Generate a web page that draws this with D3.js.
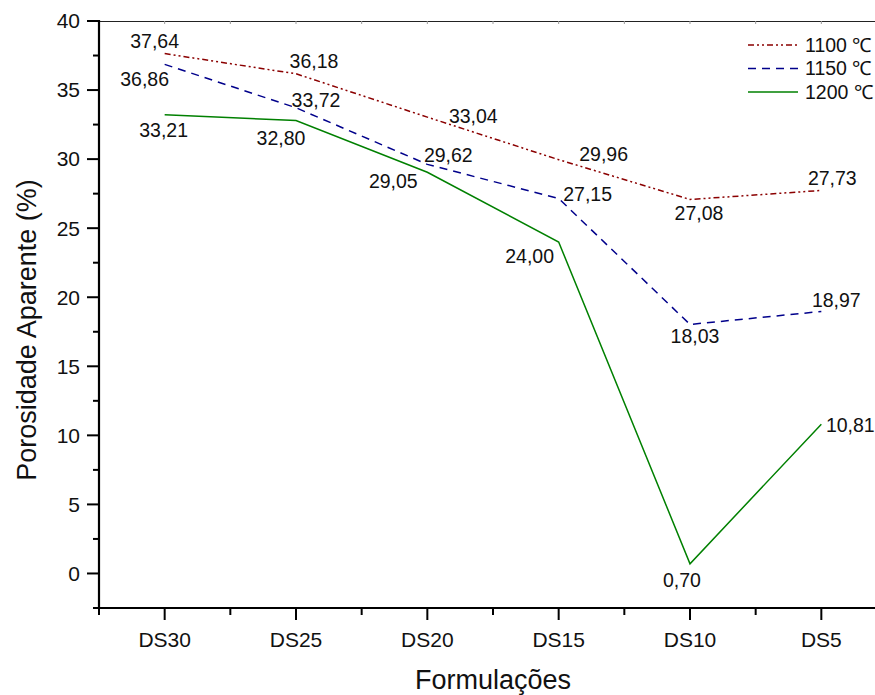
<!DOCTYPE html>
<html>
<head>
<meta charset="utf-8">
<script src="https://cdn.jsdelivr.net/npm/d3@7"></script>
<style>
  html, body { margin: 0; padding: 0; background: #fff; }
  svg { display: block; font-family: "Liberation Sans", Arial, sans-serif; }
</style>
</head>
<body>
<svg id="chart" width="875" height="695"></svg>
<script>
// ---- data ----
const categories = ["DS30", "DS25", "DS20", "DS15", "DS10", "DS5"];
const seriesNames = ["1100 ℃", "1150 ℃", "1200 ℃"];
const values1100 = [37.64, 36.18, 33.04, 29.96, 27.08, 27.73];
const values1150 = [36.86, 33.72, 29.62, 27.15, 18.03, 18.97];
const values1200 = [33.21, 32.80, 29.05, 24.00, 0.70, 10.81];
const yTicks = [0, 5, 10, 15, 20, 25, 30, 35, 40];
const yDomain = [-2.5, 40];

// ---- layout (label offsets from point, in px) ----
const labelOffsets = [
  [[-10, -12], [18, -13], [46, -1], [45, -5], [9, 14], [11, -12]],
  [[-20, 15], [20, -8], [21, -9], [29, -4], [5, 12], [15, -11]],
  [[-1, 15], [-15, 18], [-34, 9], [-29, 14], [-8, 16], [29, 1]]
];
const styles = [
  { color: "#8b0000", dash: "6,3,2,3,2,3" },
  { color: "#00008b", dash: "8,6" },
  { color: "#008000", dash: null }
];

(function () {
const series = [values1100, values1150, values1200].map((v, i) => ({
  name: seriesNames[i], values: v, style: styles[i], offsets: labelOffsets[i]
}));

const svg = d3.select("#chart");
const pLeft = 99, pTop = 21, pBottom = 608, pRight = 887;

const x = d3.scalePoint().domain(categories).range([pLeft, pRight]).padding(0.5);
const y = d3.scaleLinear().domain(yDomain).range([pBottom, pTop]);
const step = x.step();

// ---- top frame line with tiny inward ticks ----
svg.append("line").attr("x1", pLeft).attr("x2", 875).attr("y1", pTop + 0.5).attr("y2", pTop + 0.5)
  .attr("stroke", "#222").attr("stroke-width", 1);
const topTickXs = [];
categories.forEach(c => { topTickXs.push(x(c)); topTickXs.push(x(c) + step / 2); });
svg.selectAll(".ttick").data(topTickXs).enter().append("line")
  .attr("x1", d => d).attr("x2", d => d).attr("y1", pTop).attr("y2", pTop + 3)
  .attr("stroke", "#999").attr("stroke-width", 1);

// ---- left axis ----
const gy = svg.append("g");
const minorY = d3.range(-2.5, 40, 5);
gy.selectAll(".ymin").data(minorY).enter().append("line")
  .attr("x1", pLeft - 6).attr("x2", pLeft).attr("y1", d => y(d)).attr("y2", d => y(d))
  .attr("stroke", "#000").attr("stroke-width", 2);
gy.selectAll(".ymaj").data(yTicks).enter().append("line")
  .attr("x1", pLeft - 12).attr("x2", pLeft).attr("y1", d => y(d)).attr("y2", d => y(d))
  .attr("stroke", "#000").attr("stroke-width", 2);
gy.selectAll(".ylab").data(yTicks).enter().append("text")
  .attr("x", pLeft - 19).attr("y", d => y(d)).attr("dy", "0.35em")
  .attr("text-anchor", "end").attr("font-size", 21).attr("fill", "#111")
  .text(d => d);
gy.append("line").attr("x1", pLeft).attr("x2", pLeft).attr("y1", pTop - 1).attr("y2", pBottom + 1)
  .attr("stroke", "#000").attr("stroke-width", 2.2);

// ---- bottom axis ----
const gx = svg.append("g");
const minorX = categories.map(c => x(c) - step / 2).concat([x(categories[categories.length - 1]) + step / 2]);
gx.selectAll(".xmin").data(minorX).enter().append("line")
  .attr("x1", d => d).attr("x2", d => d).attr("y1", pBottom).attr("y2", pBottom + 7)
  .attr("stroke", "#000").attr("stroke-width", 2);
gx.selectAll(".xmaj").data(categories).enter().append("line")
  .attr("x1", d => x(d)).attr("x2", d => x(d)).attr("y1", pBottom).attr("y2", pBottom + 12)
  .attr("stroke", "#000").attr("stroke-width", 2);
gx.selectAll(".xlab").data(categories).enter().append("text")
  .attr("x", d => x(d)).attr("y", 647)
  .attr("text-anchor", "middle").attr("font-size", 21).attr("fill", "#111")
  .text(d => d);
gx.append("line").attr("x1", pLeft - 1).attr("x2", 875).attr("y1", pBottom).attr("y2", pBottom)
  .attr("stroke", "#000").attr("stroke-width", 2.2);

// ---- axis titles ----
svg.append("text").attr("transform", "translate(36,330) rotate(-90)")
  .attr("text-anchor", "middle").attr("font-size", 27).attr("fill", "#111")
  .text("Porosidade Aparente (%)");
svg.append("text").attr("x", 493).attr("y", 689)
  .attr("text-anchor", "middle").attr("font-size", 27).attr("fill", "#111")
  .text("Formulações");

// ---- lines ----
const line = d3.line().x((d, i) => x(categories[i])).y(d => y(d));
series.forEach(s => {
  svg.append("path").datum(s.values).attr("d", line)
    .attr("fill", "none").attr("stroke", s.style.color).attr("stroke-width", 1.5)
    .attr("stroke-dasharray", s.style.dash);
});

// ---- data labels ----
series.forEach(s => {
  svg.append("g").selectAll("text").data(s.values).enter().append("text")
    .attr("x", (d, i) => x(categories[i]) + s.offsets[i][0])
    .attr("y", (d, i) => y(d) + s.offsets[i][1])
    .attr("dy", "0.35em").attr("text-anchor", "middle")
    .attr("font-size", 19.5).attr("fill", "#111")
    .text(d => d.toFixed(2).replace(".", ","));
});

// ---- legend ----
const lg = svg.append("g");
series.forEach((s, i) => {
  const ly = 45 + i * 23.5;
  lg.append("line").attr("x1", 748).attr("x2", 798).attr("y1", ly).attr("y2", ly)
    .attr("stroke", s.style.color).attr("stroke-width", 1.5)
    .attr("stroke-dasharray", s.style.dash);
  lg.append("text").attr("x", 805).attr("y", ly).attr("dy", "0.35em")
    .attr("font-size", 19.5).attr("fill", "#111").text(s.name);
});
})();
</script>
</body>
</html>
